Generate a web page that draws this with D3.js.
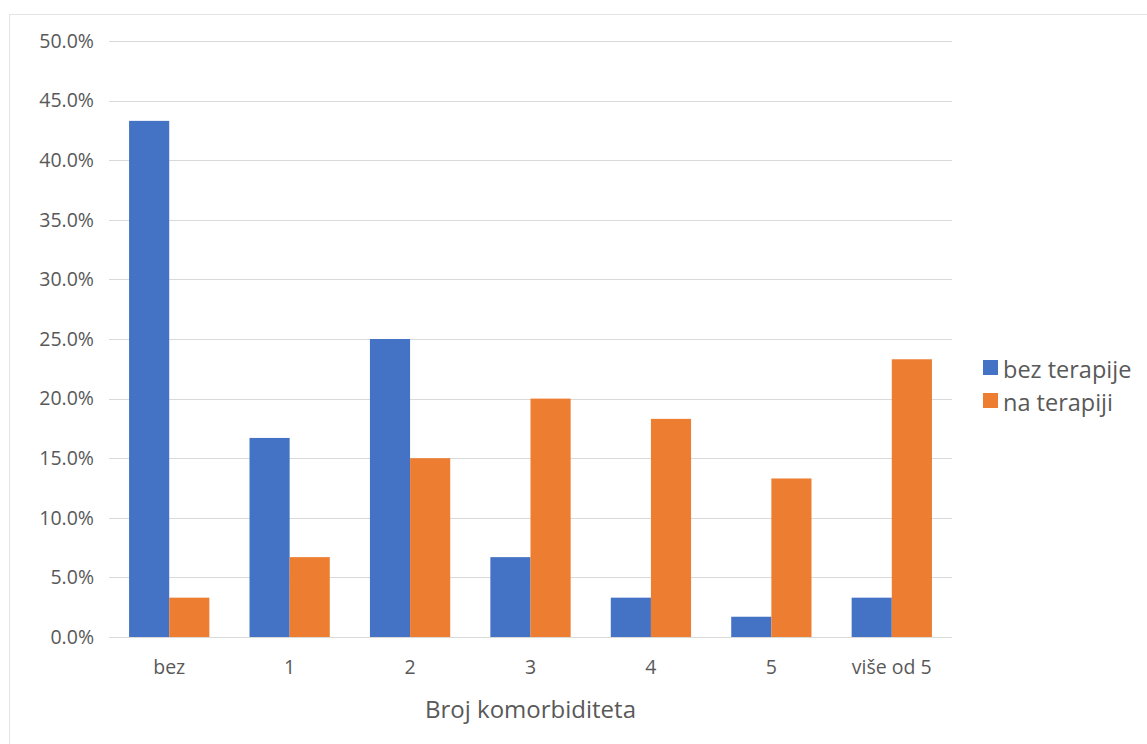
<!DOCTYPE html>
<html><head><meta charset="utf-8">
<script src="https://cdn.jsdelivr.net/npm/d3@7"></script>
<style>
html,body{margin:0;padding:0;background:#fff;}
text{font-family:"Open Sans","Noto Sans",sans-serif;fill:#595959;}
</style></head>
<body>
<svg id="chart" width="1147" height="744"></svg>
<script>
const categories = ["bez","1","2","3","4","5","više od 5"];
const seriesNames = ["bez terapije","na terapiji"];
const bezTerapije = [43.3,16.7,25.0,6.7,3.3,1.7,3.3];
const naTerapiji = [3.3,6.7,15.0,20.0,18.3,13.3,23.3];
const yTicks = [0,5,10,15,20,25,30,35,40,45,50];
const colors = ["#4472C4","#ED7D31"];
const xTitle = "Broj komorbiditeta";

(function(){
const svg = d3.select("#chart");
svg.append("rect").attr("x",9.5).attr("y",14.5).attr("width",1140).attr("height",732)
  .attr("fill","#fff").attr("stroke","#e3e3e3");

const pLeft=109, pRight=952, pTop=41, pBottom=637;
const x = d3.scaleBand().domain(categories).range([pLeft,pRight]).paddingInner(1/3).paddingOuter(1/6);
const xs = d3.scaleBand().domain(seriesNames).range([0,x.bandwidth()]);
const y = d3.scaleLinear().domain([0,50]).range([pBottom,pTop]);

// grid
svg.append("g").selectAll("line").data(yTicks).join("line")
  .attr("x1",pLeft).attr("x2",pRight)
  .attr("y1",d=>Math.round(y(d))+0.5).attr("y2",d=>Math.round(y(d))+0.5)
  .attr("stroke","#d9d9d9").attr("stroke-width",1);

// y axis labels
const yAxis = d3.axisLeft(y).tickValues(yTicks).tickFormat(d=>d.toFixed(1)+"%").tickSize(0).tickPadding(15);
const gy = svg.append("g").attr("transform",`translate(${pLeft},0)`).call(yAxis);
gy.select(".domain").remove();
gy.selectAll("text").attr("font-size",19.5).style("fill","#595959").attr("font-family","'Open Sans','Noto Sans',sans-serif");

// bars
const data = categories.map((c,i)=>({cat:c, vals:[bezTerapije[i], naTerapiji[i]]}));
const groups = svg.append("g").selectAll("g").data(data).join("g")
  .attr("transform",d=>`translate(${x(d.cat)},0)`);
groups.selectAll("rect").data(d=>d.vals.map((v,j)=>({name:seriesNames[j],v,j}))).join("rect")
  .attr("x",d=>xs(d.name)).attr("width",xs.bandwidth())
  .attr("y",d=>y(d.v)).attr("height",d=>y(0)-y(d.v))
  .attr("fill",d=>colors[d.j]);

// x axis
const xAxis = d3.axisBottom(x).tickSize(0).tickPadding(23);
const gx = svg.append("g").attr("transform",`translate(0,${pBottom})`).call(xAxis);
gx.select(".domain").remove();
gx.selectAll("text").attr("font-size",19.5).style("fill","#595959").attr("font-family","'Open Sans','Noto Sans',sans-serif");

// axis title
svg.append("text").attr("x",(pLeft+pRight)/2).attr("y",718).attr("text-anchor","middle")
  .attr("font-size",24).text(xTitle);

// legend
const leg = svg.append("g").attr("transform","translate(983,360)");
seriesNames.forEach((s,i)=>{
  leg.append("rect").attr("x",0).attr("y",i*33).attr("width",15).attr("height",15).attr("fill",colors[i]);
  leg.append("text").attr("x",20).attr("y",i*33+18).attr("font-size",23.5).text(s);
});
})();
</script>
</body></html>
